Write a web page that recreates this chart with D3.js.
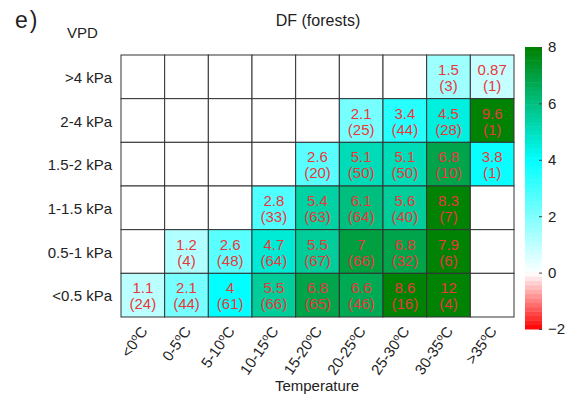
<!DOCTYPE html>
<meta charset="utf-8">
<script src="https://d3js.org/d3.v7.min.js"></script>
<style>
  body { margin: 0; background: #fff; }
  text { font-family: "Liberation Sans", Arial, sans-serif; }
</style>
<div id="my_dataviz"></div>
<script>
// categories
const tempBins = ["<0", "0-5", "5-10", "10-15", "15-20", "20-25", "25-30", "30-35", ">35"];
const vpdBins = [">4 kPa", "2-4 kPa", "1.5-2 kPa", "1-1.5 kPa", "0.5-1 kPa", "<0.5 kPa"];

// values per VPD row (top to bottom), null = empty cell
const rowGt4   = [null, null, null, null, null, null, null, 1.5, 0.87];
const row2_4   = [null, null, null, null, null, 2.1, 3.4, 4.5, 9.6];
const row15_2  = [null, null, null, null, 2.6, 5.1, 5.1, 6.8, 3.8];
const row1_15  = [null, null, null, 2.8, 5.4, 6.1, 5.6, 8.3, null];
const row05_1  = [null, 1.2, 2.6, 4.7, 5.5, 7, 6.8, 7.9, null];
const rowLt05  = [1.1, 2.1, 4, 5.5, 6.8, 6.6, 8.6, 12, null];

// sample counts per cell
const nGt4   = [null, null, null, null, null, null, null, 3, 1];
const n2_4   = [null, null, null, null, null, 25, 44, 28, 1];
const n15_2  = [null, null, null, null, 20, 50, 50, 10, 1];
const n1_15  = [null, null, null, 33, 63, 64, 40, 7, null];
const n05_1  = [null, 4, 48, 64, 67, 66, 32, 6, null];
const nLt05  = [24, 44, 61, 66, 65, 46, 16, 4, null];

const colorTicks = [-2, 0, 2, 4, 6, 8];

const valueRows = [rowGt4, row2_4, row15_2, row1_15, row05_1, rowLt05];
const countRows = [nGt4, n2_4, n15_2, n1_15, n05_1, nLt05];

const cells = [];
vpdBins.forEach((v, i) => {
  tempBins.forEach((t, j) => {
    cells.push({vpd: v, temp: t, value: valueRows[i][j], n: countRows[i][j]});
  });
});

const W = 565, H = 397;
const svg = d3.select("#my_dataviz").append("svg")
  .attr("width", W).attr("height", H);

const x = d3.scaleBand().domain(tempBins).range([121, 514]);
const y = d3.scaleBand().domain(vpdBins).range([55, 317]);

// colormap: red -> white -> cyan -> green, 64 levels
const baseColor = d3.scaleLinear()
  .domain([-2, 0, 4, 8])
  .range(["#ff0000", "#ffffff", "#00ffff", "#008000"])
  .clamp(true);
const nLevels = 64;
const step = 10 / nLevels;
function color(v) {
  const k = Math.min(nLevels - 1, Math.max(0, Math.floor((v + 2) / step)));
  return baseColor(-2 + (k + 0.5) * step);
}

// cells
svg.append("g").selectAll("rect")
  .data(cells)
  .join("rect")
    .attr("x", d => x(d.temp))
    .attr("y", d => y(d.vpd))
    .attr("width", x.bandwidth())
    .attr("height", y.bandwidth())
    .attr("fill", d => d.value == null ? "#fff" : color(d.value))
    .attr("stroke", "#333")
    .attr("stroke-width", 1);

// cell labels
const lab = svg.append("g").selectAll("text")
  .data(cells.filter(d => d.value != null))
  .join("text")
    .attr("text-anchor", "middle")
    .attr("fill", "#e8383a")
    .style("font-size", "15px");
lab.append("tspan")
  .attr("x", d => x(d.temp) + x.bandwidth() / 2)
  .attr("y", d => y(d.vpd) + 20)
  .text(d => d.value);
lab.append("tspan")
  .attr("x", d => x(d.temp) + x.bandwidth() / 2)
  .attr("y", d => y(d.vpd) + 36)
  .text(d => "(" + d.n + ")");

// y labels
svg.append("g").selectAll("text")
  .data(vpdBins)
  .join("text")
    .attr("x", 112)
    .attr("y", d => y(d) + y.bandwidth() / 2 + 6)
    .attr("text-anchor", "end")
    .style("font-size", "15px")
    .attr("fill", "#222")
    .text(d => d);

// x labels, rotated
const xl = svg.append("g").selectAll("text")
  .data(tempBins)
  .join("text")
    .attr("text-anchor", "end")
    .attr("dy", "0.35em")
    .style("font-size", "15px")
    .attr("fill", "#222")
    .attr("transform", d => `translate(${x(d) + x.bandwidth() / 2 + 1}, ${328}) rotate(-55)`);
xl.append("tspan").text(d => d);
xl.append("tspan").attr("dy", -5).style("font-size", "10px").text("o");
xl.append("tspan").attr("dy", 5).text("C");

// titles
svg.append("text").attr("x", 318).attr("y", 26).attr("text-anchor", "middle")
  .style("font-size", "16px").attr("fill", "#222").text("DF (forests)");
svg.append("text").attr("x", 15).attr("y", 28)
  .style("font-size", "23px").attr("fill", "#222")
  .text("e").append("tspan").attr("dx", 2).text(")");
svg.append("text").attr("x", 67).attr("y", 38)
  .style("font-size", "15px").attr("fill", "#222").text("VPD");
svg.append("text").attr("x", 317).attr("y", 391).attr("text-anchor", "middle")
  .style("font-size", "15px").attr("fill", "#222").text("Temperature");

// colorbar
const cb = d3.scaleLinear().domain([-2, 8]).range([329, 47]);
const levels = d3.range(nLevels).map(k => -2 + k * step);
svg.append("g").selectAll("rect")
  .data(levels)
  .join("rect")
    .attr("x", 525)
    .attr("y", d => cb(d + step))
    .attr("width", 17)
    .attr("height", d => cb(d) - cb(d + step) + 0.5)
    .attr("fill", d => color(d + step / 2));

const cbAxis = svg.append("g")
  .attr("transform", "translate(542,0)")
  .call(d3.axisRight(cb).tickValues(colorTicks).tickSize(-3).tickPadding(6));
cbAxis.select(".domain").remove();
cbAxis.selectAll("line").attr("stroke", "#444");
cbAxis.selectAll("text").style("font-size", "15px")
  .style("font-family", "Liberation Sans, Arial, sans-serif").attr("fill", "#222");
</script>
